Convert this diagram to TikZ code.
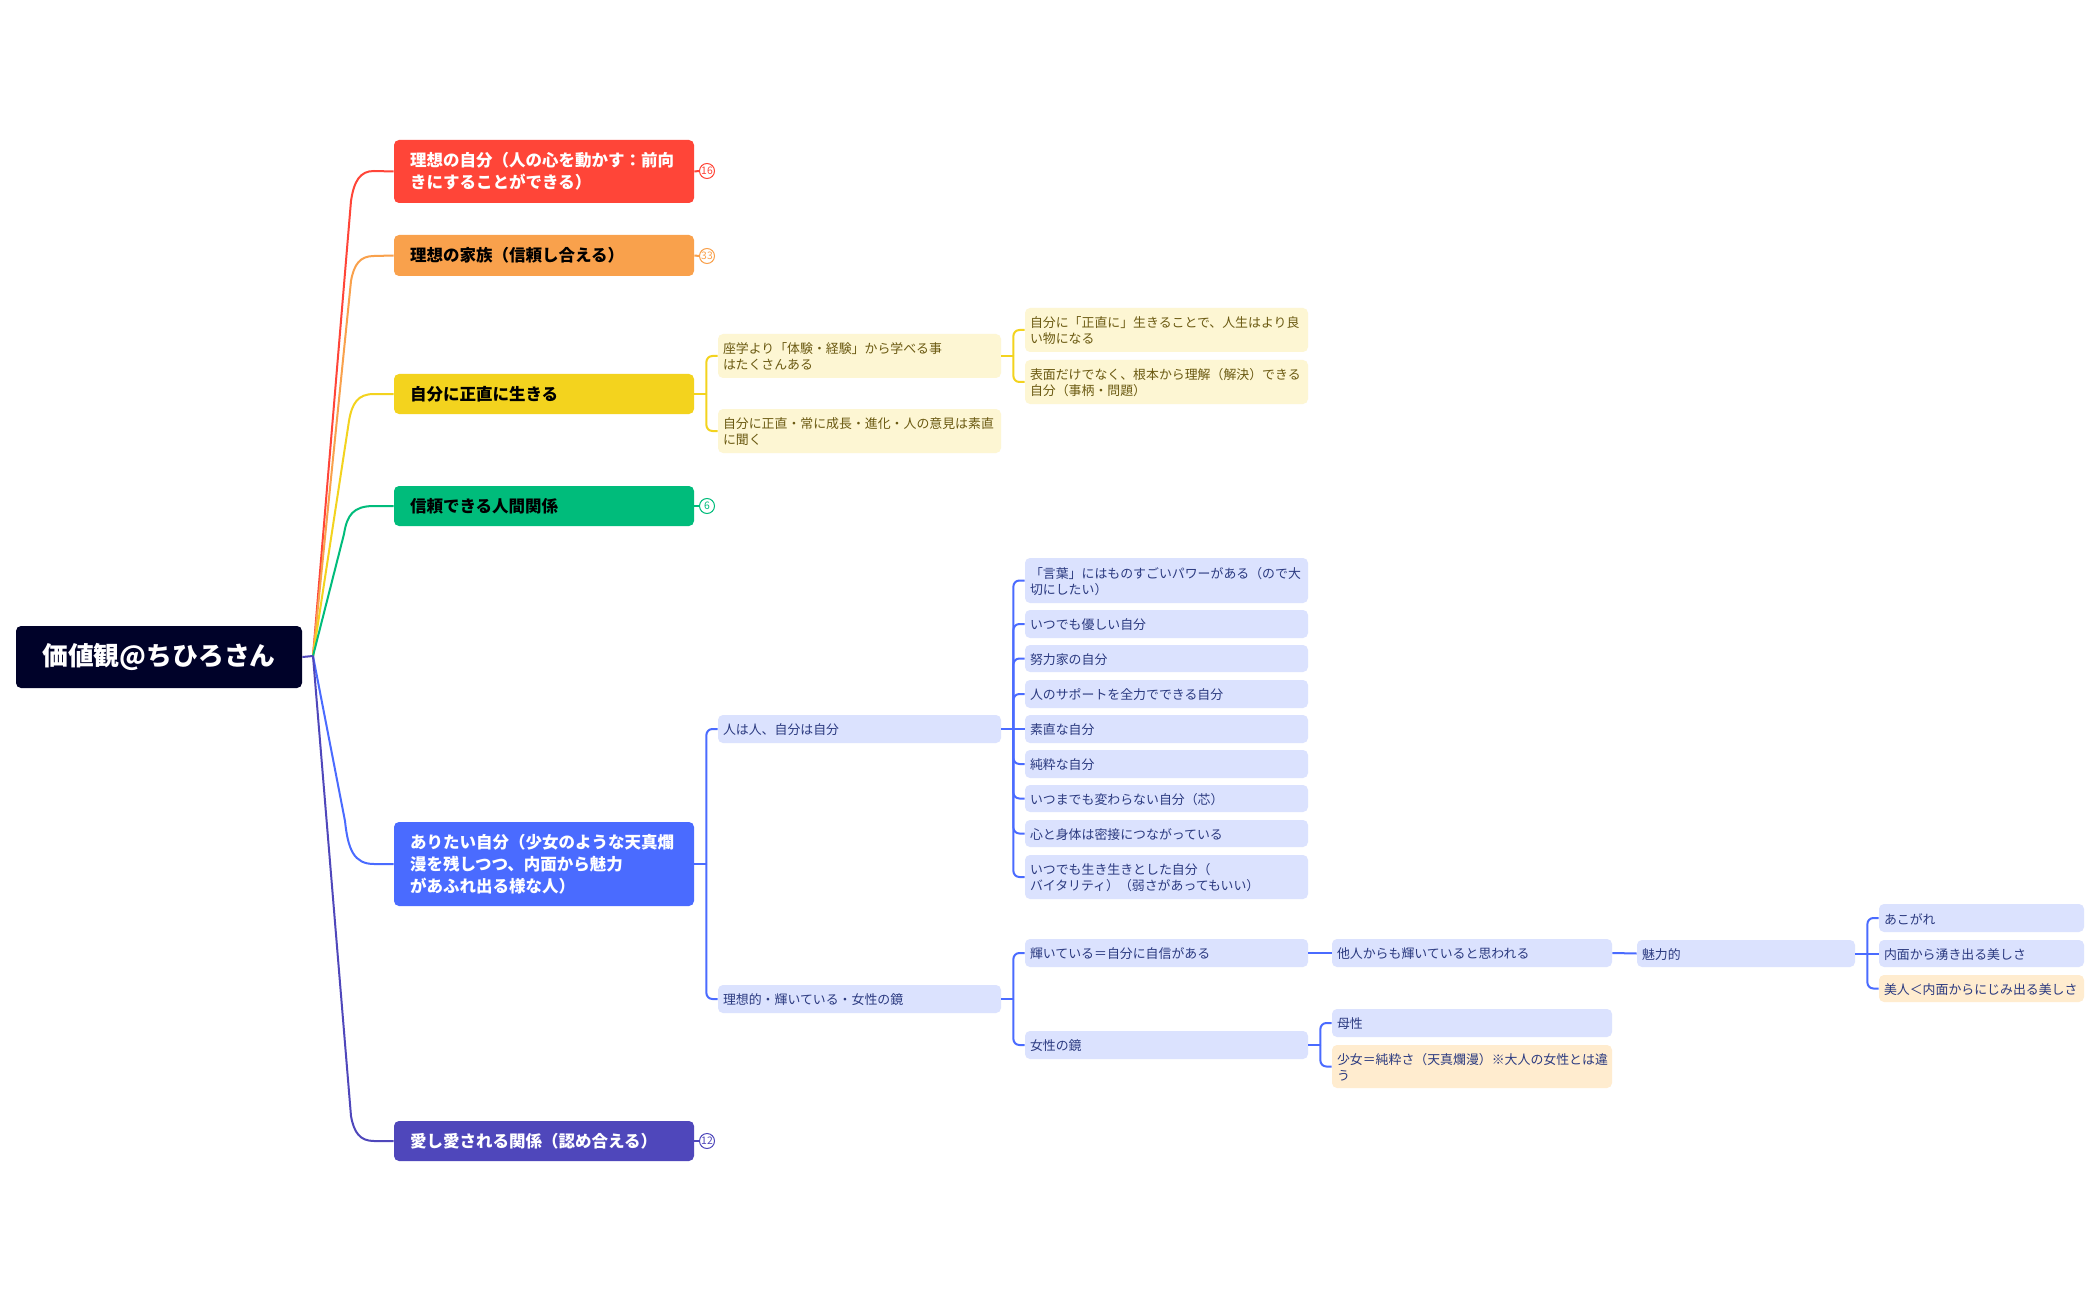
\documentclass[tikz,border=0pt]{standalone}
\usepackage{fontspec}
\setmainfont{Noto Sans CJK JP}
\usetikzlibrary{calc}
\definecolor{cRoot}{HTML}{000229}
\definecolor{cRed}{HTML}{FF4538}
\definecolor{cOrange}{HTML}{F9A14C}
\definecolor{cYellow}{HTML}{F3D31E}
\definecolor{cGreen}{HTML}{00BC7B}
\definecolor{cBlue}{HTML}{4A6BFF}
\definecolor{cIndigo}{HTML}{4F47BB}
\definecolor{lYellow}{HTML}{FDF6D3}
\definecolor{lBlue}{HTML}{DBE2FE}
\definecolor{lOrange}{HTML}{FFECCF}
\definecolor{tYellow}{HTML}{6B5A12}
\definecolor{tBlue}{HTML}{2B3A80}
\tikzset{
  boxbase/.style={rounded corners=2.5pt,inner ysep=0pt,align=left,anchor=center},
  rootbox/.style={boxbase,fill=cRoot,text=white,align=center,font=\fontsize{12.9}{16}\selectfont\bfseries},
  topbox/.style={boxbase,fill=#1,font=\fontsize{8.25}{11}\selectfont\bfseries},
  subY/.style={boxbase,fill=lYellow,text=tYellow,font=\fontsize{6.45}{8}\selectfont},
  subB/.style={boxbase,fill=lBlue,text=tBlue,font=\fontsize{6.45}{8}\selectfont},
  subO/.style={boxbase,fill=lOrange,text=tBlue,font=\fontsize{6.45}{8}\selectfont},
  badge/.style={circle,draw=#1,fill=white,text=#1,line width=0.5pt,inner sep=0pt,minimum size=7.5pt,font=\fontsize{5.2}{5.5}\selectfont},
  branch/.style={draw=#1,line width=1pt},
  twig/.style={draw=#1,line width=1pt},
}
\newcommand\bx[8]{%
  \pgfmathsetmacro\bxw{(#4-#2-2*#6)*0.5}%
  \pgfmathsetmacro\bxh{(#5-#3)*0.5}%
  \pgfmathsetmacro\bxp{#6*0.5}%
  \node[#7,text width=\bxw pt,minimum height=\bxh pt,inner xsep=\bxp pt] (#1) at ({(#2+#4)/2},{(#3+#5)/2}) {#8};}
\newcommand\sx[7]{\bx{#1}{#2}{#3}{#4}{#5}{5}{#6}{\rule{0pt}{6.4pt}#7}}
\newcommand\rootlink[6]{%
  \draw[branch=#2] (hub) -- (#4,{#3+#5}) .. controls ({#4+3},{#3+#5/3}) and ({#4+9},#3) .. (374,#3) -- (#1.west);}
\newcommand\twiglink[3]{%
  \draw[twig=#3] (#1.east) -- ++(12,0);
  \draw[twig=#3,rounded corners=3pt] ($(#1.east)+(12,0)$) |- (#2.west);}
\newcommand\straight[3]{\draw[twig=#3] (#1.east) -- (#2.west);}
\newcommand\numbadge[4]{%
  \node[badge=#3] (#1) at (707,#4) {#2};}
\begin{document}
\begin{tikzpicture}[x=0.5pt,y=-0.5pt]
\useasboundingbox (0,0) rectangle (2100,1300);
\fill[white] (0,0) rectangle (2100,1300);
\begin{scope}[yshift=-0.5pt]
% root
\bx{root}{16}{625}{302}{687}{0}{rootbox}{価値観@ちひろさん}
\coordinate (hub) at (313,655);
% level 1
\bx{nA}{394}{139}{694}{202}{16}{topbox=cRed,text=white}{理想の自分（人の心を動かす：前向\\きにすることができる）}
\bx{nB}{394}{234}{694}{275}{16}{topbox=cOrange,text=black}{理想の家族（信頼し合える）}
\bx{nC}{394}{373}{694}{413}{16}{topbox=cYellow,text=black}{自分に正直に生きる}
\bx{nD}{394}{485}{694}{525}{16}{topbox=cGreen,text=black}{信頼できる人間関係}
\bx{nE}{394}{821}{694}{905}{16}{topbox=cBlue,text=white}{ありたい自分（少女のような天真爛\\漫を残しつつ、内面から魅力\\があふれ出る様な人）}
\bx{nF}{394}{1120}{694}{1160}{16}{topbox=cIndigo,text=white}{愛し愛される関係（認め合える）}
% root links
\rootlink{nA}{cRed}{170}{351}{30}{}
\rootlink{nB}{cOrange}{255}{351}{25}{}
\rootlink{nC}{cYellow}{393}{349}{27}{}
\rootlink{nD}{cGreen}{505}{344}{28}{}
\rootlink{nE}{cBlue}{863}{345}{-43}{}
\rootlink{nF}{cIndigo}{1140}{351}{-25}{}
\draw[branch=cIndigo] (root.east) -- (hub);
% badges
\numbadge{bA}{16}{cRed}{170}
\numbadge{bB}{33}{cOrange}{255}
\numbadge{bD}{6}{cGreen}{505}
\numbadge{bF}{12}{cIndigo}{1140}
\draw[twig=cRed] (nA.east) -- (bA.west);
\draw[twig=cOrange] (nB.east) -- (bB.west);
\draw[twig=cGreen] (nD.east) -- (bD.west);
\draw[twig=cIndigo] (nF.east) -- (bF.west);
% yellow branch
\sx{yA}{718}{333}{1001}{377}{subY}{座学より「体験・経験」から学べる事\\はたくさんある}
\sx{yB}{718}{408}{1001}{452}{subY}{自分に正直・常に成長・進化・人の意見は素直\\に聞く}
\sx{yC}{1025}{307}{1308}{351}{subY}{自分に「正直に」生きることで、人生はより良\\い物になる}
\sx{yD}{1025}{359}{1308}{403}{subY}{表面だけでなく、根本から理解（解決）できる\\自分（事柄・問題）}
\twiglink{nC}{yA}{cYellow}
\twiglink{nC}{yB}{cYellow}
\twiglink{yA}{yC}{cYellow}
\twiglink{yA}{yD}{cYellow}
% blue branch
\sx{eA}{718}{714}{1001}{742}{subB}{人は人、自分は自分}
\sx{eB}{718}{984}{1001}{1012}{subB}{理想的・輝いている・女性の鏡}
\sx{fA}{1025}{557}{1308}{602}{subB}{「言葉」にはものすごいパワーがある（ので大\\切にしたい）}
\sx{fB}{1025}{609}{1308}{637}{subB}{いつでも優しい自分}
\sx{fC}{1025}{644}{1308}{671}{subB}{努力家の自分}
\sx{fD}{1025}{679}{1308}{707}{subB}{人のサポートを全力でできる自分}
\sx{fE}{1025}{714}{1308}{742}{subB}{素直な自分}
\sx{fF}{1025}{749}{1308}{777}{subB}{純粋な自分}
\sx{fG}{1025}{784}{1308}{811}{subB}{いつまでも変わらない自分（芯）}
\sx{fH}{1025}{819}{1308}{846}{subB}{心と身体は密接につながっている}
\sx{fI}{1025}{854}{1308}{898}{subB}{いつでも生き生きとした自分（\\バイタリティ）（弱さがあってもいい）}
\sx{gA}{1025}{938}{1308}{966}{subB}{輝いている＝自分に自信がある}
\sx{gB}{1025}{1030}{1308}{1058}{subB}{女性の鏡}
\sx{hA}{1332}{938}{1612}{966}{subB}{他人からも輝いていると思われる}
\sx{hB}{1332}{1008}{1612}{1036}{subB}{母性}
\sx{hC}{1332}{1044}{1612}{1087}{subO}{少女＝純粋さ（天真爛漫）※大人の女性とは違\\う}
\sx{iA}{1637}{939}{1855}{966}{subB}{魅力的}
\sx{jA}{1879}{903}{2084}{931}{subB}{あこがれ}
\sx{jB}{1879}{939}{2084}{966}{subB}{内面から湧き出る美しさ}
\sx{jC}{1879}{974}{2084}{1001}{subO}{美人＜内面からにじみ出る美しさ}
\twiglink{nE}{eA}{cBlue}
\twiglink{nE}{eB}{cBlue}
\twiglink{eA}{fA}{cBlue}
\twiglink{eA}{fB}{cBlue}
\twiglink{eA}{fC}{cBlue}
\twiglink{eA}{fD}{cBlue}
\straight{eA}{fE}{cBlue}
\twiglink{eA}{fF}{cBlue}
\twiglink{eA}{fG}{cBlue}
\twiglink{eA}{fH}{cBlue}
\twiglink{eA}{fI}{cBlue}
\twiglink{eB}{gA}{cBlue}
\twiglink{eB}{gB}{cBlue}
\twiglink{gB}{hB}{cBlue}
\twiglink{gB}{hC}{cBlue}
\straight{gA}{hA}{cBlue}
\straight{hA}{iA}{cBlue}
\twiglink{iA}{jA}{cBlue}
\straight{iA}{jB}{cBlue}
\twiglink{iA}{jC}{cBlue}
\end{scope}
\end{tikzpicture}
\end{document}
